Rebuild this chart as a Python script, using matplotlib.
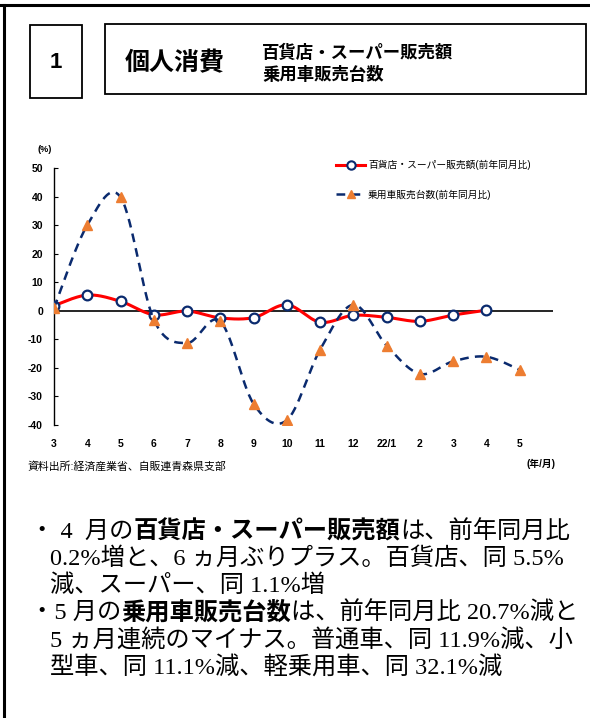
import numpy as np
import matplotlib
matplotlib.use("Agg")
import matplotlib.pyplot as plt
from matplotlib.lines import Line2D
from matplotlib.patches import Rectangle

# data
months = ["3", "4", "5", "6", "7", "8", "9", "10", "11", "12", "22/1", "2", "3", "4", "5"]
dept_store = [1.8, 5.5, 3.3, -1.4, -0.1, -2.5, -2.4, 2.1, -4.0, -1.6, -2.3, -3.7, -1.5, 0.2]
car_sales = [1.0, 30.0, 39.8, -3.1, -11.3, -3.7, -32.6, -38.3, -13.6, 2.1, -12.2, -22.1, -17.7, -16.1, -20.7]
yticks = [50, 40, 30, 20, 10, 0, -10, -20, -30, -40]

label_dept = "百貨店・スーパー販売額(前年同月比)"
label_car = "乗用車販売台数(前年同月比)"
source = "資料出所:経済産業省、自販連青森県支部"

W, H = 590, 718
JP = ["Liberation Sans", "Noto Sans CJK JP"]
plt.rcParams["font.family"] = JP


def smooth(y, n=30):
    # Excel-like smoothed line (Catmull-Rom as cubic Bezier)
    x = np.arange(len(y), dtype=float)
    y = np.asarray(y, dtype=float)
    xs, ys = [], []
    for i in range(len(y) - 1):
        i0, i3 = max(i - 1, 0), min(i + 2, len(y) - 1)
        p0 = np.array([x[i], y[i]])
        p3 = np.array([x[i + 1], y[i + 1]])
        c1 = p0 + (np.array([x[i + 1], y[i + 1]]) - np.array([x[i0], y[i0]])) / 6
        c2 = p3 - (np.array([x[i3], y[i3]]) - np.array([x[i], y[i]])) / 6
        t = np.linspace(0, 1, n)[:, None]
        pts = (1 - t) ** 3 * p0 + 3 * (1 - t) ** 2 * t * c1 + 3 * (1 - t) * t ** 2 * c2 + t ** 3 * p3
        xs.extend(pts[:, 0])
        ys.extend(pts[:, 1])
    return np.array(xs), np.array(ys)


def fx(px):
    return px / W


def fy(py):
    return 1 - py / H


fig = plt.figure(figsize=(W / 100, H / 100), dpi=100)

# outer frame (top and left edges)
fig.add_artist(Line2D([0, 1], [fy(5), fy(5)], color="black", lw=2.2))
fig.add_artist(Line2D([fx(4), fx(4)], [0, fy(5)], color="black", lw=2.2))

# header boxes
fig.add_artist(Rectangle((fx(30), fy(98)), fx(82) - fx(30), fy(25) - fy(98),
                         fill=False, ec="black", lw=1.3, transform=fig.transFigure))
fig.add_artist(Rectangle((fx(105), fy(94)), fx(586) - fx(105), fy(24) - fy(94),
                         fill=False, ec="black", lw=1.3, transform=fig.transFigure))
fig.text(fx(56), fy(62), "1", fontsize=16, fontweight="bold", ha="center", va="center",
         family="Liberation Sans")
fig.text(fx(125), fy(63), "個人消費", fontsize=18, fontweight="bold", ha="left", va="center")
fig.text(fx(262), fy(52), "百貨店・スーパー販売額", fontsize=12.5, fontweight="bold", ha="left", va="center")
fig.text(fx(262), fy(75), "乗用車販売台数", fontsize=12.5, fontweight="bold", ha="left", va="center")

# chart
ax = fig.add_axes([fx(54), fy(425), fx(553) - fx(54), fy(168) - fy(425)])
ax.set_xlim(0, 15)
ax.set_ylim(-40, 50)
for s in ["top", "right", "bottom"]:
    ax.spines[s].set_visible(False)
ax.spines["left"].set_linewidth(1.0)
ax.axhline(0, color="black", lw=1.2, zorder=1)

ax.set_yticks(yticks)
ax.set_yticklabels([str(v) for v in yticks], fontsize=7.5, fontweight="bold")
ax.tick_params(axis="y", direction="in", length=3, pad=8)
ax.set_xticks(range(len(months)))
ax.set_xticklabels(months, fontsize=7.5, fontweight="bold")
ax.tick_params(axis="x", length=0, pad=10)

xd, yd = smooth(dept_store)
ax.plot(xd, yd, color="#FF0000", lw=2.2, zorder=3)
ax.plot(range(len(dept_store)), dept_store, ls="none", marker="o", ms=7,
        mfc="white", mec="#0A2A6E", mew=1.6, zorder=4)

xc, yc = smooth(car_sales)
ax.plot(xc, yc, color="#0A2A6E", lw=1.8, ls=(0, (3.5, 2.5)), zorder=5)
ax.plot(range(len(car_sales)), car_sales, ls="none", marker="^", ms=7,
        mfc="#ED7D31", mec="#ED7D31", zorder=6)

h1 = Line2D([], [], color="#FF0000", lw=2.2, marker="o", ms=6, mfc="white", mec="#0A2A6E", mew=1.5)
h2 = Line2D([], [], color="#0A2A6E", lw=1.8, ls=(0, (3.5, 2.5)), marker="^", ms=6,
            mfc="#ED7D31", mec="#ED7D31")
ax.legend([h1, h2], [label_dept, label_car], loc="upper left",
          bbox_to_anchor=(fx(336), fy(160)), bbox_transform=fig.transFigure,
          frameon=False, fontsize=7, handlelength=3.0, handletextpad=0.3,
          labelspacing=2.0, borderpad=0, borderaxespad=0)

fig.text(fx(45), fy(149), "(%)", fontsize=6.5, fontweight="bold", ha="center", va="center")
fig.text(fx(541), fy(464), "(年/月)", fontsize=7, fontweight="bold", ha="center", va="center")
fig.text(fx(27), fy(466), source, fontsize=7.8, ha="left", va="center")

# commentary below the chart, with bold runs
body_font = ["Liberation Serif", "Noto Sans CJK JP"]
bold_font = ["Noto Sans CJK JP"]
lines = [
    (30, 532, [("・ 4  月の", False), ("百貨店・スーパー販売額", True), ("は、前年同月比", False)]),
    (50, 559, [("0.2%増と、6 ヵ月ぶりプラス。百貨店、同 5.5%", False)]),
    (50, 586, [("減、スーパー、同 1.1%増", False)]),
    (30, 613, [("・5 月の", False), ("乗用車販売台数", True), ("は、前年同月比 20.7%減と", False)]),
    (50, 640, [("5 ヵ月連続のマイナス。普通車、同 11.9%減、小", False)]),
    (50, 667, [("型車、同 11.1%減、軽乗用車、同 32.1%減", False)]),
]
fig.canvas.draw()
renderer = fig.canvas.get_renderer()
for x0, y0, parts in lines:
    x = fx(x0)
    for txt, bold in parts:
        t = fig.text(x, fy(y0), txt, fontsize=17.5, ha="left", va="center",
                     family=bold_font if bold else body_font,
                     fontweight="bold" if bold else "normal")
        bb = t.get_window_extent(renderer)
        x += bb.width / W

fig.savefig("out.png", dpi=100)
